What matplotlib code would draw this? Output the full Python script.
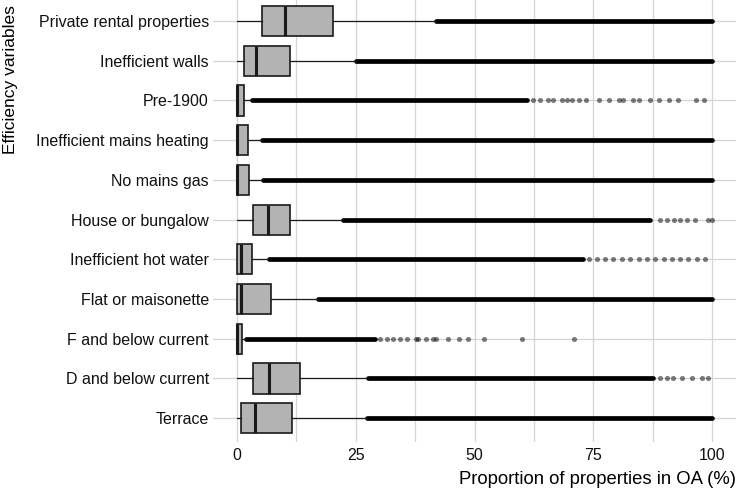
import numpy as np
import matplotlib
matplotlib.use("Agg")
import matplotlib.pyplot as plt

plt.rcParams['font.family'] = ['Liberation Sans', 'DejaVu Sans']

# categories from top to bottom
categories = ["Private rental properties", "Inefficient walls", "Pre-1900",
              "Inefficient mains heating", "No mains gas", "House or bungalow",
              "Inefficient hot water", "Flat or maisonette", "F and below current",
              "D and below current", "Terrace"]

# box statistics (% of properties in OA)
q1 = [5.3, 1.5, 0.0, 0.0, 0.0, 3.4, 0.1, 0.1, 0.0, 3.4, 0.9]
med = [10.2, 4.1, 0.0, 0.0, 0.0, 6.5, 0.8, 0.8, 0.0, 6.8, 3.9]
q3 = [20.2, 11.2, 1.6, 2.4, 2.6, 11.2, 3.1, 7.1, 1.1, 13.3, 11.7]
whislo = [0, 0, 0, 0, 0, 0, 0, 0, 0, 0, 0]
whishi = [42.0, 25.0, 3.3, 5.4, 5.6, 22.4, 6.8, 17.1, 1.9, 27.6, 27.4]

# outliers: a solid run from whishi up to dense_end, then the sparse ones
dense_end = [100, 100, 61.0, 100, 100, 86.9, 72.9, 100, 29.0, 87.6, 100]
sparse = [
    [],
    [],
    [62.4, 63.8, 65.5, 66.6, 68.4, 69.4, 70.5, 71.9, 73.5, 76.1, 78.2, 80.3,
     81.2, 83.3, 84.7, 86.9, 88.8, 91.0, 92.9, 96.6, 98.3],
    [],
    [],
    [89.1, 90.5, 91.9, 93.3, 94.7, 96.4, 99.2, 100.0],
    [74.0, 75.7, 77.5, 79.2, 81.0, 82.7, 84.5, 86.3, 88.0, 89.8, 91.5, 93.3,
     95.0, 96.8, 98.5],
    [],
    [30.1, 31.5, 32.9, 34.3, 35.7, 37.8, 38.2, 39.9, 41.3, 42.0, 44.5, 46.7,
     48.6, 51.9, 60.0, 71.0],
    [89.0, 90.4, 91.8, 93.6, 95.7, 97.8, 99.2],
    [],
]

xticks = [0, 25, 50, 75, 100]

n = len(categories)
pos = np.arange(n, 0, -1)

W, H = 737, 490
fig = plt.figure(figsize=(W / 100, H / 100), dpi=100)
ax = fig.add_axes([213 / W, 48 / H, 523 / W, 444.8 / H])

stats = []
for i in range(n):
    stats.append(dict(q1=q1[i], med=med[i], q3=q3[i], whislo=whislo[i],
                      whishi=whishi[i], fliers=[]))

# dense outlier runs
ax.hlines(pos, whishi, dense_end, color="black", lw=3.4, capstyle="round", zorder=3)
for i in range(n):
    if sparse[i]:
        ax.plot(sparse[i], [pos[i]] * len(sparse[i]), "o", color="black",
                alpha=0.5, ms=3.7, mew=0, zorder=3)

ax.bxp(stats, positions=pos, widths=0.76, vert=False, patch_artist=True,
       showcaps=False, showfliers=False,
       boxprops=dict(facecolor="#b3b3b3", edgecolor="#1a1a1a", lw=1.2),
       medianprops=dict(color="#1a1a1a", lw=2.2),
       whiskerprops=dict(color="#1a1a1a", lw=0.9),
       zorder=4)

ax.set_xlim(-5, 105)
ax.set_ylim(0.4, n + 0.6)
ax.set_yticks(pos)
ax.set_yticklabels(categories)
ax.set_xticks(xticks)
ax.set_xticks([12.5, 37.5, 62.5, 87.5], minor=True)
ax.grid(True, which="both", axis="x", color="#d4d4d4", lw=0.9)
ax.grid(True, which="major", axis="y", color="#d4d4d4", lw=0.9)
ax.set_axisbelow(True)
for s in ax.spines.values():
    s.set_visible(False)
ax.tick_params(axis="both", which="both", length=0, labelsize=11.5,
               labelcolor="#111111")
ax.tick_params(axis="y", pad=3)
ax.tick_params(axis="x", pad=4)

fig.text(736 / W, 1 - 479 / H, "Proportion of properties in OA (%)",
         ha="right", va="center", fontsize=13.3, color="black")
fig.text(11 / W, 1 - 80 / H, "Efficiency variables", rotation=90,
         ha="center", va="center", fontsize=12.5, color="black")

fig.savefig("out.png", dpi=100)
